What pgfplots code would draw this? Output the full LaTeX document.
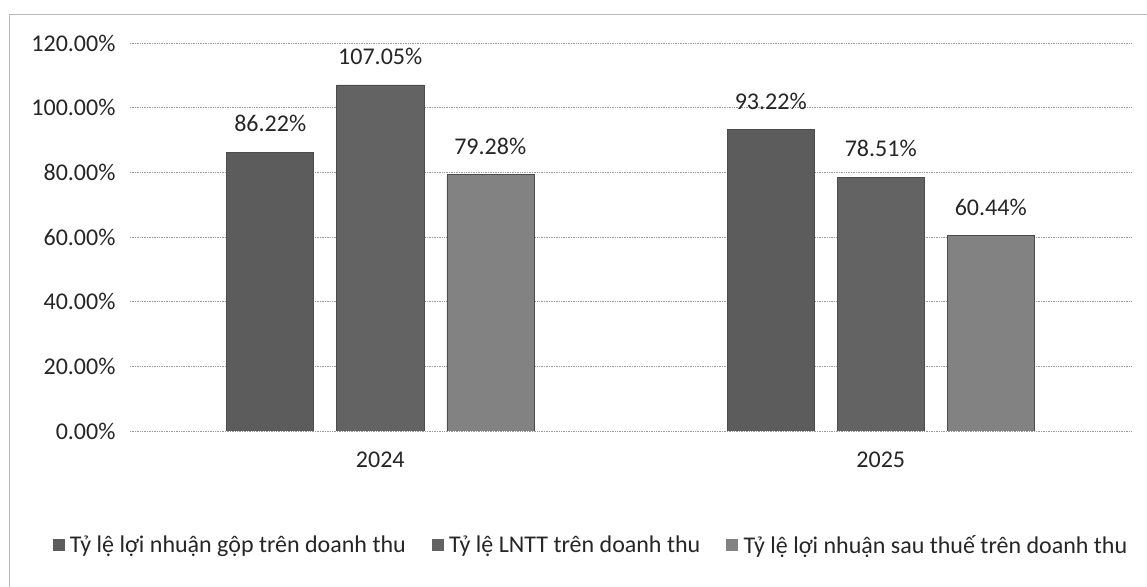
\documentclass[border=0pt]{standalone}
\usepackage{pgfplots}
\pgfplotsset{compat=1.18}
\usepackage{fontspec}
\setmainfont{Carlito}
\definecolor{barA}{HTML}{5C5C5C}
\definecolor{barB}{HTML}{636363}
\definecolor{barC}{HTML}{828282}
\definecolor{gridc}{HTML}{9A9A9A}
\definecolor{txt}{HTML}{262626}
\begin{document}
\begin{tikzpicture}[x=1bp,y=1bp]
\useasboundingbox (0,0) rectangle (1147,587);
\fill[white] (0,0) rectangle (1147,587);
\draw[gridc!70, line width=0.8bp] (9,0) -- (9,573) -- (1147,573);
\begin{axis}[
  at={(130bp,156bp)}, anchor=south west,
  scale only axis, width=1001bp, height=388bp,
  xmin=-0.5, xmax=1.5, ymin=0, ymax=120,
  ybar=23bp, bar width=87bp,
  xtick={0,1}, xticklabels={2024,2025},
  ytick={0,20,...,120},
  yticklabel={\pgfmathprintnumber[fixed,precision=2,zerofill]{\tick}\%},
  /pgf/number format/assume math mode=true,
  axis line style={draw=none},
  major tick length=0,
  ymajorgrids, grid style={gridc, line width=0.7bp, densely dotted},
  font=\fontsize{24bp}{28bp}\selectfont\color{txt},
  yticklabel style={xshift=-11bp},
  xticklabel style={yshift=-17bp},
  nodes near coords={\pgfmathprintnumber[fixed,precision=2,zerofill]{\pgfplotspointmeta}\%},
  every node near coord/.append style={inner sep=0pt, yshift=20bp, font=\fontsize{24bp}{28bp}\selectfont, color=txt},
  legend columns=3,
  legend style={draw=none, fill=none, at={(0.4605,-0.2938)}, anchor=center,
    font=\fontsize{24bp}{28bp}\selectfont, text=txt,
    /tikz/every even column/.append style={column sep=24bp},
    inner sep=0pt},
  legend image code/.code={\fill[#1, draw=none] (0bp,-6bp) rectangle (12bp,6bp); \path (15bp,0bp);},
  legend cell align=left,
]
\addplot[fill=barA, draw=black!70, line width=0.5bp] coordinates {(0,86.22) (1,93.22)};
\addplot[fill=barB, draw=black!70, line width=0.5bp] coordinates {(0,107.05) (1,78.51)};
\addplot[fill=barC, draw=black!70, line width=0.5bp] coordinates {(0,79.28) (1,60.44)};
\legend{Tỷ lệ lợi nhuận gộp trên doanh thu, Tỷ lệ LNTT trên doanh thu, Tỷ lệ lợi nhuận sau thuế trên doanh thu}
\end{axis}
\end{tikzpicture}
\end{document}
